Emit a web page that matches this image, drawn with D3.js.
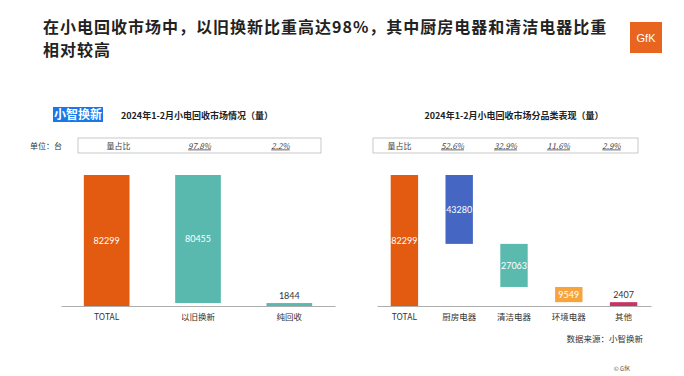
<!DOCTYPE html>
<html>
<head>
<meta charset="utf-8">
<script src="https://cdn.jsdelivr.net/npm/d3@7"></script>
<style>
  body { margin: 0; background: #fff; }
  svg { font-family: "Noto Sans CJK SC", "Noto Sans", sans-serif; }
</style>
</head>
<body>
<div id="container"></div>
<script>
// left chart: market overview
let leftCats = ["TOTAL", "以旧换新", "纯回收"];
let leftValues = [82299, 80455, 1844];
let leftShares = ["97.8%", "2.2%"];
let leftColors = ["#E35B10", "#59B9AE", "#59B9AE"];

// right chart: by category
let rightCats = ["TOTAL", "厨房电器", "清洁电器", "环境电器", "其他"];
let rightValues = [82299, 43280, 27063, 9549, 2407];
let rightShares = ["52.6%", "32.9%", "11.6%", "2.9%"];
let rightColors = ["#E35B10", "#4566C3", "#5BBAAE", "#F8A43C", "#C73463"];

let w = 684;
let h = 376;
let viz = d3.select("#container")
  .append("svg")
    .attr("width", w)
    .attr("height", h)
;

// title
viz.append("text")
  .attr("x", 43).attr("y", 33)
  .attr("font-size", 16).attr("letter-spacing", 1.0)
  .attr("font-weight", "bold").attr("fill", "#222")
  .text("在小电回收市场中，以旧换新比重高达98%，其中厨房电器和清洁电器比重");
viz.append("text")
  .attr("x", 43).attr("y", 56)
  .attr("font-size", 16).attr("letter-spacing", 1.0)
  .attr("font-weight", "bold").attr("fill", "#222")
  .text("相对较高");

// GfK logo
viz.append("rect")
  .attr("x", 630).attr("y", 22).attr("width", 32).attr("height", 31)
  .attr("fill", "#E8641F");
viz.append("text")
  .attr("x", 646).attr("y", 42).attr("text-anchor", "middle")
  .attr("font-size", 11).attr("fill", "#fff").attr("font-family", "Liberation Sans")
  .text("GfK");

// badge
viz.append("rect")
  .attr("x", 53).attr("y", 107).attr("width", 50).attr("height", 15)
  .attr("fill", "#1878E8");
viz.append("text")
  .attr("x", 78).attr("y", 119).attr("text-anchor", "middle")
  .attr("font-size", 12).attr("font-weight", "bold").attr("fill", "#fff")
  .text("小智换新");

viz.append("text")
  .attr("x", 30).attr("y", 149)
  .attr("font-size", 8).attr("fill", "#333")
  .text("单位：台");

// footer
viz.append("text")
  .attr("x", 643).attr("y", 342).attr("text-anchor", "end")
  .attr("font-size", 8.5).attr("fill", "#333")
  .text("数据来源：小智换新");
viz.append("text")
  .attr("x", 630).attr("y", 371).attr("text-anchor", "end")
  .attr("font-size", 6).attr("fill", "#555")
  .text("© GfK");

let baseY = 306;
let topY = 175;

function waterfall(opts) {
  let g = viz.append("g");
  let cats = opts.cats, values = opts.values;

  // subtitle
  g.append("text")
    .attr("x", opts.titleX).attr("y", 119).attr("text-anchor", "middle")
    .attr("font-size", 9).attr("font-weight", "bold").attr("fill", "#222")
    .text(opts.title);

  // share table
  g.append("rect")
    .attr("x", opts.box[0]).attr("y", 138)
    .attr("width", opts.box[1] - opts.box[0]).attr("height", 15)
    .attr("fill", "none").attr("stroke", "#bbb").attr("stroke-width", 0.8);
  let cols = ["量占比"].concat(opts.shares);
  let colScale = d3.scaleBand().domain(d3.range(cols.length)).range(opts.box);
  g.selectAll(".share").data(cols).enter()
    .append("text")
      .attr("class", "share")
      .attr("x", function(d, i){ return colScale(i) + colScale.bandwidth() / 2; })
      .attr("y", 148.5)
      .attr("text-anchor", "middle")
      .attr("font-size", 8)
      .attr("fill", "#444")
      .attr("font-style", function(d, i){ return i == 0 ? "normal" : "italic"; })
      .attr("text-decoration", function(d, i){ return i == 0 ? "none" : "underline"; })
      .text(function(d){ return d; });

  // compute waterfall spans
  let spans = [];
  let running = values[0];
  spans.push({ cat: cats[0], v: values[0], lo: 0, hi: values[0] });
  for (let i = 1; i < values.length; i++) {
    spans.push({ cat: cats[i], v: values[i], lo: running - values[i], hi: running });
    running -= values[i];
  }

  let xScale = d3.scaleBand().domain(cats).range(opts.range)
    .paddingInner(0.5).paddingOuter(0.25);
  let yScale = d3.scaleLinear().domain([0, values[0]]).range([baseY, topY]);

  g.selectAll(".bar").data(spans).enter()
    .append("rect")
      .attr("class", "bar")
      .attr("x", function(d){ return xScale(d.cat); })
      .attr("y", function(d){ return yScale(d.hi); })
      .attr("width", xScale.bandwidth())
      .attr("height", function(d){ return yScale(d.lo) - yScale(d.hi); })
      .attr("fill", function(d, i){ return opts.colors[i]; });

  // axis
  let xAxis = d3.axisBottom(xScale).tickSize(0).tickPadding(8);
  let axisGroup = g.append("g")
    .attr("transform", "translate(0," + baseY + ")")
    .call(xAxis);
  axisGroup.select(".domain").attr("stroke", "#999").attr("stroke-width", 0.8);
  axisGroup.selectAll("text")
    .attr("font-size", 8.5).attr("fill", "#333")
    .attr("font-family", "\"Noto Sans CJK SC\", sans-serif");

  // value labels
  g.selectAll(".val").data(spans).enter()
    .append("text")
      .attr("class", "val")
      .attr("x", function(d){ return xScale(d.cat) + xScale.bandwidth() / 2; })
      .attr("y", function(d){
        let hpx = yScale(d.lo) - yScale(d.hi);
        if (hpx < 10) return yScale(d.hi) - 4;
        return (yScale(d.lo) + yScale(d.hi)) / 2 + 3.3;
      })
      .attr("text-anchor", "middle")
      .attr("font-size", 9)
      .attr("font-family", "Lato, sans-serif")
      .attr("fill", function(d){
        let hpx = yScale(d.lo) - yScale(d.hi);
        return hpx < 10 ? "#333" : "#fff";
      })
      .text(function(d){ return d.v; });
}

waterfall({
  cats: leftCats, values: leftValues, shares: leftShares, colors: leftColors,
  title: "2024年1-2月小电回收市场情况（量）", titleX: 197,
  box: [78, 321], range: [61, 335]
});

waterfall({
  cats: rightCats, values: rightValues, shares: rightShares, colors: rightColors,
  title: "2024年1-2月小电回收市场分品类表现（量）", titleX: 514,
  box: [373, 638], range: [377, 651]
});
</script>
</body>
</html>
